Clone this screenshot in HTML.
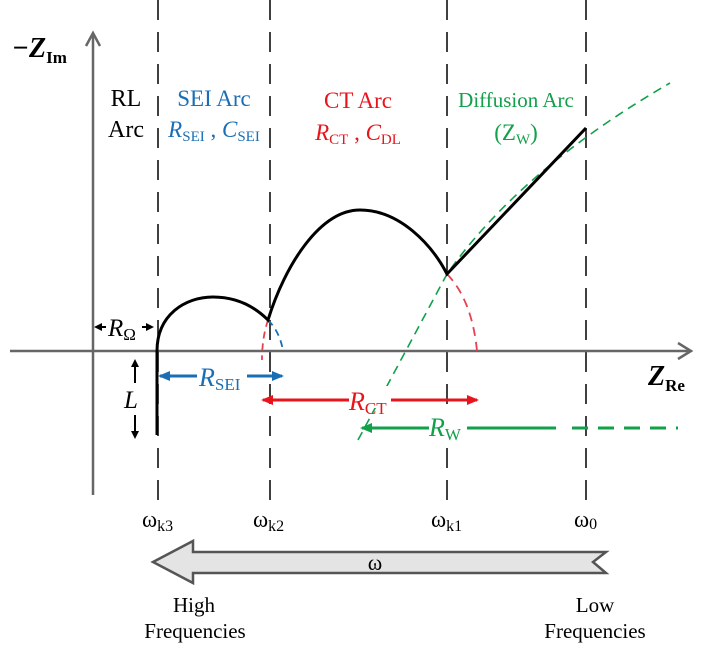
<!DOCTYPE html>
<html><head><meta charset="utf-8"><style>
html,body{margin:0;padding:0;background:#fff}
svg{display:block}
text{font-family:"Liberation Serif",serif}
</style></head><body>
<svg width="716" height="657" viewBox="0 0 716 657" xmlns="http://www.w3.org/2000/svg">
<defs>
<marker id="ab" markerWidth="8" markerHeight="8" refX="6" refY="4" orient="auto-start-reverse" markerUnits="userSpaceOnUse"><path d="M0,0 L8,4 L0,8 Z" fill="#000"/></marker>
<marker id="abl" markerWidth="12" markerHeight="10" refX="10" refY="5" orient="auto-start-reverse" markerUnits="userSpaceOnUse"><path d="M0,0 L12,5 L0,10 Z" fill="#1a6eb5"/></marker>
<marker id="ar" markerWidth="12" markerHeight="10" refX="10" refY="5" orient="auto-start-reverse" markerUnits="userSpaceOnUse"><path d="M0,0 L12,5 L0,10 Z" fill="#e8141c"/></marker>
<marker id="ag" markerWidth="12" markerHeight="10" refX="10" refY="5" orient="auto-start-reverse" markerUnits="userSpaceOnUse"><path d="M0,0 L12,5 L0,10 Z" fill="#12a04a"/></marker>
</defs>
<g stroke="#111" stroke-width="1.6" stroke-dasharray="20,12">
<line x1="158" y1="0" x2="158" y2="505"/>
<line x1="270" y1="0" x2="270" y2="505"/>
<line x1="447" y1="0" x2="447" y2="505"/>
<line x1="586" y1="0" x2="586" y2="505"/>
</g>
<line x1="93" y1="495" x2="93" y2="35" stroke="#666" stroke-width="2.5"/>
<path d="M86,46 L93,33 L100,46" fill="none" stroke="#666" stroke-width="2.5"/>
<line x1="10" y1="351" x2="690" y2="351" stroke="#666" stroke-width="2.5"/>
<path d="M678,343 L691,351 L678,359" fill="none" stroke="#666" stroke-width="2.5"/>
<path d="M268,320 Q280,332 283,351" fill="none" stroke="#1a6eb5" stroke-width="1.8" stroke-dasharray="7,5"/>
<path d="M268,320 Q262,338 262,360" fill="none" stroke="#e84050" stroke-width="1.8" stroke-dasharray="7,5"/>
<path d="M447,274 Q472,300 477,351" fill="none" stroke="#e84050" stroke-width="1.8" stroke-dasharray="9,6"/>
<path d="M358,440 L447,274 Q520,170 670,83" fill="none" stroke="#12a04a" stroke-width="1.6" stroke-dasharray="9,6"/>
<!-- region label backgrounds (gaps in dashed lines) -->
<rect x="100" y="82" width="50" height="62" fill="#fff"/>
<rect x="163" y="82" width="102" height="62" fill="#fff"/>
<rect x="452" y="82" width="128" height="48" fill="#fff"/>
<path d="M157,435 L157,351 C157,315 185,297 213,297 C238,297 256,308 268,320 C285,265 320,210 360,210 C400,210 432,245 447,274 L586,128" fill="none" stroke="#000" stroke-width="3"/>
<line x1="96" y1="327" x2="152" y2="327" stroke="#000" stroke-width="2" marker-start="url(#ab)" marker-end="url(#ab)"/>
<rect x="106" y="312" width="36" height="30" fill="#fff"/>
<text x="108" y="336" font-size="25" font-style="italic">R<tspan font-size="17" font-style="normal" dy="4">Ω</tspan></text>
<line x1="135" y1="361" x2="135" y2="383" stroke="#000" stroke-width="2" marker-start="url(#ab)"/>
<line x1="135" y1="415" x2="135" y2="437" stroke="#000" stroke-width="2" marker-end="url(#ab)"/>
<text x="124" y="408" font-size="25" font-style="italic">L</text>
<line x1="160" y1="376" x2="282" y2="376" stroke="#1a6eb5" stroke-width="3" marker-start="url(#abl)" marker-end="url(#abl)"/>
<rect x="197" y="360" width="50" height="26" fill="#fff"/>
<text x="199" y="386" font-size="26" font-style="italic" fill="#1a6eb5">R<tspan font-size="17" font-style="normal" dy="4">SEI</tspan></text>
<line x1="263" y1="400" x2="477" y2="400" stroke="#e8141c" stroke-width="3" marker-start="url(#ar)" marker-end="url(#ar)"/>
<rect x="349" y="386" width="42" height="22" fill="#fff"/>
<text x="349" y="410" font-size="26" font-style="italic" fill="#e8141c">R<tspan font-size="17" font-style="normal" dy="4">CT</tspan></text>
<line x1="362" y1="428" x2="556" y2="428" stroke="#12a04a" stroke-width="3" marker-start="url(#ag)"/>
<line x1="572" y1="428" x2="678" y2="428" stroke="#12a04a" stroke-width="3" stroke-dasharray="16,10"/>
<rect x="429" y="414" width="38" height="26" fill="#fff"/>
<text x="429" y="436" font-size="26" font-style="italic" fill="#12a04a">R<tspan font-size="17" font-style="normal" dy="4">W</tspan></text>
<text x="12" y="57" font-size="28" font-weight="bold" font-style="italic">−Z<tspan font-size="17" font-style="normal" dy="6">Im</tspan></text>
<text x="648" y="385" font-size="28" font-weight="bold" font-style="italic">Z<tspan font-size="17" font-style="normal" dy="6">Re</tspan></text>
<text x="126" y="106" font-size="24" text-anchor="middle">RL</text>
<text x="126" y="137" font-size="24" text-anchor="middle">Arc</text>
<text x="214" y="106" font-size="23" text-anchor="middle" fill="#1a6eb5">SEI Arc</text>
<text x="214" y="137" font-size="23" fill="#1a6eb5" text-anchor="middle"><tspan font-style="italic">R</tspan><tspan font-size="15" dy="4">SEI</tspan><tspan dy="-4"> , </tspan><tspan font-style="italic">C</tspan><tspan font-size="15" dy="4">SEI</tspan></text>
<text x="358" y="108" font-size="23" text-anchor="middle" fill="#e8141c">CT Arc</text>
<text x="358" y="140" font-size="23" fill="#e8141c" text-anchor="middle"><tspan font-style="italic">R</tspan><tspan font-size="15" dy="4">CT</tspan><tspan dy="-4"> , </tspan><tspan font-style="italic">C</tspan><tspan font-size="15" dy="4">DL</tspan></text>
<text x="516" y="107" font-size="21" text-anchor="middle" fill="#12a04a">Diffusion Arc</text>
<text x="516" y="140" font-size="23" text-anchor="middle" fill="#12a04a">(Z<tspan font-size="15" dy="4">W</tspan><tspan dy="-4">)</tspan></text>
<g font-size="23">
<text x="142" y="527">ω<tspan font-size="16" dy="4">k3</tspan></text>
<text x="253" y="527">ω<tspan font-size="16" dy="4">k2</tspan></text>
<text x="431" y="527">ω<tspan font-size="16" dy="4">k1</tspan></text>
<text x="574" y="527">ω<tspan font-size="16" dy="2">0</tspan></text>
</g>
<path d="M153,562 L193,541 L193,552 L606,552 L593,562 L606,573 L193,573 L193,583 Z" fill="#e4e4e4" stroke="#555" stroke-width="2.5"/>
<text x="375" y="570" font-size="22" text-anchor="middle">ω</text>
<g font-size="21" text-anchor="middle">
<text x="194" y="612">High</text>
<text x="195" y="638">Frequencies</text>
<text x="595" y="612">Low</text>
<text x="595" y="638">Frequencies</text>
</g>
</svg>
</body></html>
